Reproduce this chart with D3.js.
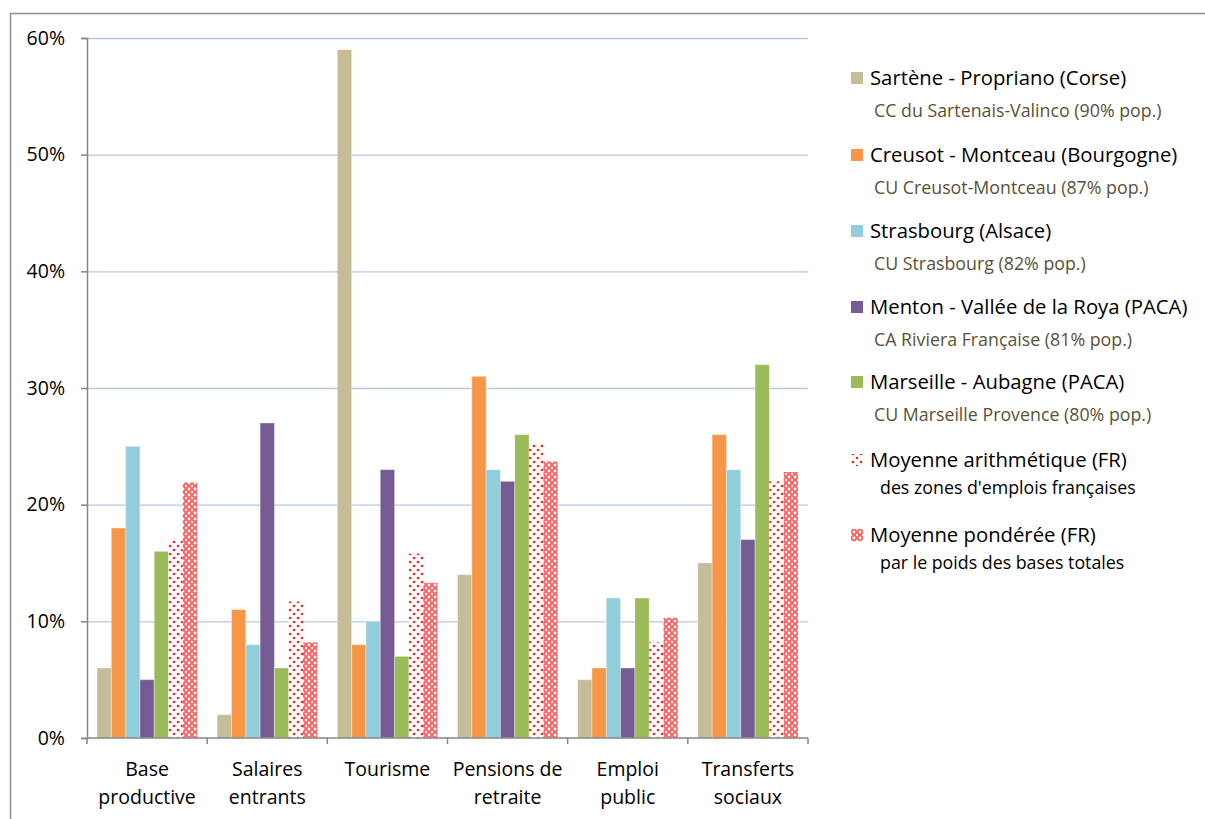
<!DOCTYPE html>
<meta charset="utf-8">
<script src="https://d3js.org/d3.v7.min.js"></script>
<style>
  body { margin: 0; background: #fff; }
  svg text { font-family: "Open Sans", Lato, sans-serif; }
</style>
<div id="chart"></div>
<script>

var categories = [
  ["Base", "productive"],
  ["Salaires", "entrants"],
  ["Tourisme"],
  ["Pensions de", "retraite"],
  ["Emploi", "public"],
  ["Transferts", "sociaux"]
];

var seriesNames = [
  "Sartène - Propriano (Corse)",
  "Creusot - Montceau (Bourgogne)",
  "Strasbourg (Alsace)",
  "Menton - Vallée de la Roya (PACA)",
  "Marseille - Aubagne (PACA)",
  "Moyenne arithmétique (FR)",
  "Moyenne pondérée (FR)"
];

var seriesNotes = [
  "CC du Sartenais-Valinco (90% pop.)",
  "CU Creusot-Montceau (87% pop.)",
  "CU Strasbourg (82% pop.)",
  "CA Riviera Française (81% pop.)",
  "CU Marseille Provence (80% pop.)",
  "des zones d'emplois françaises",
  "par le poids des bases totales"
];

// one array per series, in the order of the categories
var sartene    = [6, 2, 59, 14, 5, 15];
var creusot    = [18, 11, 8, 31, 6, 26];
var strasbourg = [25, 8, 10, 23, 12, 23];
var menton     = [5, 27, 23, 22, 6, 17];
var marseille  = [16, 6, 7, 26, 12, 32];
var moyArith   = [17, 11.7, 15.8, 25.2, 8.2, 22];
var moyPond    = [21.9, 8.2, 13.3, 23.7, 10.3, 22.8];

var yTicks = [0, 10, 20, 30, 40, 50, 60];

var allSeries = [sartene, creusot, strasbourg, menton, marseille, moyArith, moyPond];
var fills = ["#C4BD97", "#F79646", "#92CDDC", "#765A94", "#9BBB59", "url(#dots)", "url(#cross)"];

var W = 1205, H = 819;
var svg = d3.select("#chart").append("svg")
  .attr("width", W).attr("height", H);

// patterns for the two averages
var defs = svg.append("defs");
var pd = defs.append("pattern").attr("id", "dots")
  .attr("patternUnits", "userSpaceOnUse").attr("width", 8).attr("height", 8);
pd.append("rect").attr("width", 8).attr("height", 8).attr("fill", "#fff");
pd.append("circle").attr("cx", 2).attr("cy", 2).attr("r", 1.3).attr("fill", "#FF2020");
pd.append("circle").attr("cx", 6).attr("cy", 6).attr("r", 1.3).attr("fill", "#FF2020");

var pc = defs.append("pattern").attr("id", "cross")
  .attr("patternUnits", "userSpaceOnUse").attr("width", 6).attr("height", 6);
pc.append("rect").attr("width", 6).attr("height", 6).attr("fill", "#FF6060");
pc.append("circle").attr("cx", 3).attr("cy", 3).attr("r", 1.4).attr("fill", "#fff");
pc.append("circle").attr("cx", 0).attr("cy", 0).attr("r", 1.2).attr("fill", "#fff");
pc.append("circle").attr("cx", 6).attr("cy", 0).attr("r", 1.2).attr("fill", "#fff");
pc.append("circle").attr("cx", 0).attr("cy", 6).attr("r", 1.2).attr("fill", "#fff");
pc.append("circle").attr("cx", 6).attr("cy", 6).attr("r", 1.2).attr("fill", "#fff");

// outer frame
svg.append("rect")
  .attr("x", 10.5).attr("y", 13.5)
  .attr("width", 1400).attr("height", 1000)
  .attr("fill", "none").attr("stroke", "#8E8E8E").attr("stroke-width", 1.5);

var plotLeft = 87, plotRight = 808, plotTop = 38, plotBottom = 738;

var x0 = d3.scaleBand()
  .domain(d3.range(categories.length))
  .range([plotLeft, plotRight])
  .padding(0);

var x1 = d3.scaleBand()
  .domain(d3.range(allSeries.length))
  .range([0, x0.bandwidth()])
  .paddingInner(0)
  .paddingOuter(0.7);

var y = d3.scaleLinear()
  .domain([0, 60])
  .range([plotBottom, plotTop]);

// gridlines
svg.append("g")
  .selectAll("line")
  .data(yTicks.filter(function(d) { return d > 0; }))
  .enter().append("line")
    .attr("x1", plotLeft).attr("x2", plotRight)
    .attr("y1", function(d) { return y(d) + 0.5; })
    .attr("y2", function(d) { return y(d) + 0.5; })
    .attr("stroke", "#B7C7E4").attr("stroke-width", 1.3);

// bars
var groups = svg.append("g")
  .selectAll("g")
  .data(allSeries)
  .enter().append("g")
    .attr("fill", function(d, i) { return fills[i]; });

groups.each(function(vals, si) {
  d3.select(this).selectAll("rect")
    .data(vals)
    .enter().append("rect")
      .attr("x", function(d, ci) { return x0(ci) + x1(si); })
      .attr("y", function(d) { return y(d); })
      .attr("width", x1.bandwidth())
      .attr("height", function(d) { return plotBottom - y(d); })
      .attr("stroke", si < 5 ? "rgba(255,255,255,0.35)" : "none")
      .attr("stroke-width", 1);
});

// y axis
var yAxis = svg.append("g")
  .attr("transform", "translate(" + plotLeft + ",0)")
  .call(d3.axisLeft(y).tickValues(yTicks).tickSize(6).tickPadding(16)
    .tickFormat(function(d) { return d + "%"; }));
yAxis.select(".domain").attr("stroke", "#868686").attr("stroke-width", 1.5);
yAxis.selectAll(".tick line").attr("stroke", "#868686").attr("stroke-width", 1.5);
yAxis.selectAll(".tick text")
  .attr("font-size", 19.5).attr("fill", "#000")
  .style("font-family", "'Open Sans', Lato, sans-serif");

// x axis
var xAxis = svg.append("g")
  .attr("transform", "translate(0," + plotBottom + ")");
xAxis.append("line")
  .attr("x1", plotLeft).attr("x2", plotRight)
  .attr("stroke", "#868686").attr("stroke-width", 1.5);
xAxis.selectAll(".xt")
  .data(d3.range(categories.length + 1))
  .enter().append("line")
    .attr("x1", function(d) { return d < categories.length ? x0(d) : plotRight; })
    .attr("x2", function(d) { return d < categories.length ? x0(d) : plotRight; })
    .attr("y1", 0).attr("y2", 6)
    .attr("stroke", "#868686").attr("stroke-width", 1.5);

xAxis.selectAll(".xl")
  .data(categories)
  .enter().append("text")
    .attr("text-anchor", "middle")
    .attr("font-size", 19.5)
    .attr("x", function(d, i) { return x0(i) + x0.bandwidth() / 2; })
    .attr("y", 38)
    .selectAll("tspan")
    .data(function(d) { return d; })
    .enter().append("tspan")
      .attr("x", function() { return d3.select(this.parentNode).attr("x"); })
      .attr("dy", function(d, i) { return i === 0 ? 0 : 28; })
      .text(function(d) { return d; });

// legend
var legendY = [78, 155, 231, 307, 382, 460, 535];
var legend = svg.append("g");
var items = legend.selectAll("g")
  .data(seriesNames)
  .enter().append("g")
    .attr("transform", function(d, i) { return "translate(851," + legendY[i] + ")"; });

items.append("rect")
  .attr("x", 0).attr("y", -6)
  .attr("width", 12).attr("height", 12)
  .attr("fill", function(d, i) { return fills[i]; });

items.append("text")
  .attr("x", 19).attr("y", 7)
  .attr("font-size", 20.3).attr("fill", "#000")
  .text(function(d) { return d; });

items.append("text")
  .attr("x", function(d, i) { return i < 5 ? 23 : 29; })
  .attr("y", function(d, i) { return i < 5 ? 39 : 34; })
  .attr("font-size", function(d, i) { return i < 5 ? 17.8 : 17.8; })
  .attr("fill", function(d, i) { return i < 5 ? "#5A5237" : "#000"; })
  .text(function(d, i) { return seriesNotes[i]; });

</script>
